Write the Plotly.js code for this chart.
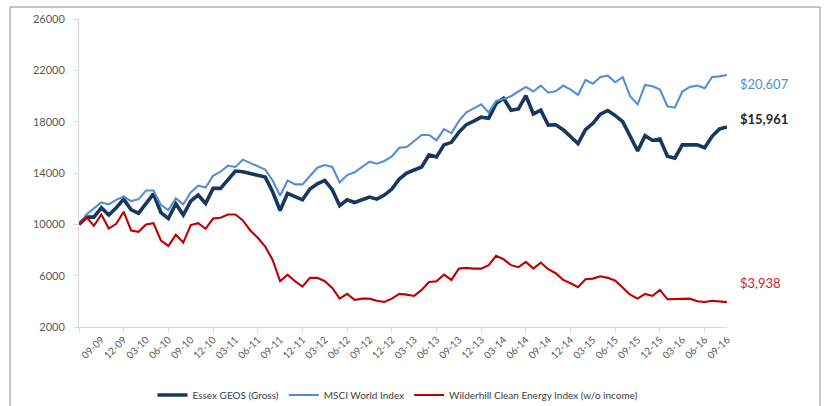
<!DOCTYPE html>
<html>
<head>
<meta charset="utf-8">
<script src="https://cdn.plot.ly/plotly-3.0.1.min.js"></script>
<style>
  html, body { margin: 0; padding: 0; background: #ffffff; }
  #chart { width: 828px; height: 406px; }
</style>
</head>
<body>
<div id="chart"></div>
<script>
// Monthly categories, Jun 2009 – Sep 2016
const months = [
  "06-09","07-09","08-09","09-09","10-09","11-09","12-09",
  "01-10","02-10","03-10","04-10","05-10","06-10","07-10","08-10","09-10","10-10","11-10","12-10",
  "01-11","02-11","03-11","04-11","05-11","06-11","07-11","08-11","09-11","10-11","11-11","12-11",
  "01-12","02-12","03-12","04-12","05-12","06-12","07-12","08-12","09-12","10-12","11-12","12-12",
  "01-13","02-13","03-13","04-13","05-13","06-13","07-13","08-13","09-13","10-13","11-13","12-13",
  "01-14","02-14","03-14","04-14","05-14","06-14","07-14","08-14","09-14","10-14","11-14","12-14",
  "01-15","02-15","03-15","04-15","05-15","06-15","07-15","08-15","09-15","10-15","11-15","12-15",
  "01-16","02-16","03-16","04-16","05-16","06-16","07-16","08-16","09-16"
];

const essexGeos = [
  10000,10560,10560,11290,10720,11290,11960,11130,10870,11640,12380,10920,10450,11600,10720,11810,12280,11620,
  12800,12800,13480,14150,14100,13940,13790,13680,12540,11080,12420,12170,11910,12750,13160,13420,12700,11450,
  11910,11700,11910,12120,11960,12280,12750,13530,14000,14260,14470,15410,15250,16190,16390,17170,17770,18040,
  18350,18260,19410,19820,18890,18990,20030,18600,18900,17730,17760,17380,16880,16290,17380,17870,18580,18870,
  18470,18000,16860,15720,16910,16540,16650,15300,15150,16190,16190,16190,15970,16860,17430,17590
];

const msciWorld = [
  10000,10770,11240,11700,11550,11910,12170,11810,11960,12640,12640,11500,11110,12020,11550,12480,13010,12860,
  13790,14100,14570,14470,15040,14780,14520,14260,13420,12230,13420,13110,13110,13730,14410,14620,14470,13260,
  13840,14050,14470,14880,14720,14940,15300,15970,16030,16490,16960,16960,16540,17420,17110,18040,18720,19040,
  19350,18720,19620,19770,19980,20350,20710,20350,20810,20260,20370,20810,20500,20080,21250,20960,21480,21590,
  21070,21480,19980,19350,20860,20760,20500,19200,19090,20350,20710,20810,20600,21480,21530,21640
];

const wilderhill = [
  10000,10560,9880,10770,9670,10040,10980,9520,9420,9990,10090,8740,8320,9200,8580,9940,10090,9650,
  10450,10510,10770,10770,10300,9520,8950,8270,7230,5570,6080,5570,5150,5830,5830,5570,5040,4210,
  4580,4110,4210,4210,4050,3950,4210,4580,4520,4420,4890,5510,5570,6080,5670,6550,6610,6550,
  6550,6820,7540,7280,6820,6660,7070,6550,7020,6500,6190,5670,5410,5100,5720,5770,5950,5830,
  5610,5100,4520,4210,4580,4420,4890,4160,4160,4160,4210,4000,3950,4050,4000,3940
];

const seriesNames = ["Essex GEOS (Gross)", "MSCI World Index", "Wilderhill Clean Energy Index (w/o income)"];
const endLabels = ["$15,961", "$20,607", "$3,938"];

// Quarterly tick labels (every 3rd month) and half-yearly tick marks
const tickLabels = [
  "09-09","12-09","03-10","06-10","09-10","12-10","03-11","06-11","09-11","12-11",
  "03-12","06-12","09-12","12-12","03-13","06-13","09-13","12-13","03-14","06-14",
  "09-14","12-14","03-15","06-15","09-15","12-15","03-16","06-16","09-16"
];
const tickMarkLabels = [
  "06-09","12-09","06-10","12-10","06-11","12-11","06-12","12-12","06-13","12-13",
  "06-14","12-14","06-15","12-15","06-16"
];

const xs = months.map((m, i) => i);
const tickvals = tickLabels.map(l => months.indexOf(l));
const minorvals = tickMarkLabels.map(l => months.indexOf(l));

const colors = ["#17375E", "#558ED5", "#C00000"];
const widths = [3.6, 2.1, 2.1];
const dataSets = [essexGeos, msciWorld, wilderhill];

const traces = dataSets.map((d, k) => ({
  type: "scatter",
  mode: "lines",
  x: xs,
  y: d,
  name: seriesNames[k],
  line: { color: colors[k], width: widths[k] },
  hoverinfo: "skip"
}));

// plot area: 648 x 308 px, 2000..26000
const PW = 648, PH = 308;
const annColors = ["#262626", "#558ED5", "#D42424"];
const annPx = [[738, 119], [738, 84], [738, 283]];
const annotations = endLabels.map((t, k) => ({
  xref: "paper", yref: "paper",
  x: (annPx[k][0] - 79) / PW, y: (327 - annPx[k][1]) / PH,
  xanchor: "left", yanchor: "middle",
  text: k === 0 ? "<b>" + t + "</b>" : t,
  showarrow: false,
  font: { family: "Lato, 'Open Sans', sans-serif", size: 13, color: annColors[k] }
}));

const layout = {
  width: 828,
  height: 406,
  margin: { l: 79, r: 101, t: 19, b: 79, pad: 0, autoexpand: false },
  paper_bgcolor: "#ffffff",
  plot_bgcolor: "#ffffff",
  font: { family: "Lato, 'Open Sans', sans-serif", color: "#595959", size: 10 },
  showlegend: true,
  legend: {
    orientation: "h",
    x: (398 - 79) / PW, xanchor: "center",
    y: (327 - 395) / PH, yanchor: "middle",
    font: { size: 10, color: "#404040" },
    traceorder: "normal",
    itemwidth: 30
  },
  xaxis: {
    range: [0, months.length - 1],
    automargin: false,
    tickmode: "array",
    tickvals: tickvals,
    ticktext: tickLabels,
    tickangle: -45,
    ticks: "",
    showgrid: false,
    zeroline: false,
    showline: true,
    linecolor: "#D9D9D9",
    linewidth: 1,
    tickfont: { size: 10, color: "#595959" },
    ticklabelstandoff: 2,
    minor: {
      tickmode: "array",
      tickvals: minorvals,
      ticks: "outside",
      ticklen: 5,
      tickcolor: "#D9D9D9",
      tickwidth: 1,
      showgrid: false
    },
    fixedrange: true
  },
  yaxis: {
    range: [2000, 26000],
    automargin: false,
    tickmode: "linear",
    tick0: 2000,
    dtick: 4000,
    tickformat: "d",
    ticks: "outside",
    ticklen: 4,
    tickcolor: "#D9D9D9",
    showgrid: false,
    zeroline: false,
    showline: true,
    linecolor: "#D9D9D9",
    linewidth: 1,
    tickfont: { size: 11, color: "#595959" },
    ticklabelstandoff: 7,
    fixedrange: true
  },
  annotations: annotations,
  shapes: [{
    type: "rect",
    xref: "paper", yref: "paper",
    x0: (10 - 79) / PW, x1: (820 - 79) / PW,
    y0: -0.4, y1: (327 - 7) / PH,
    line: { color: "#8C8C8C", width: 1 },
    fillcolor: "rgba(0,0,0,0)",
    layer: "below"
  }]
};

Plotly.newPlot("chart", traces, layout, { displayModeBar: false, staticPlot: true });
</script>
</body>
</html>
